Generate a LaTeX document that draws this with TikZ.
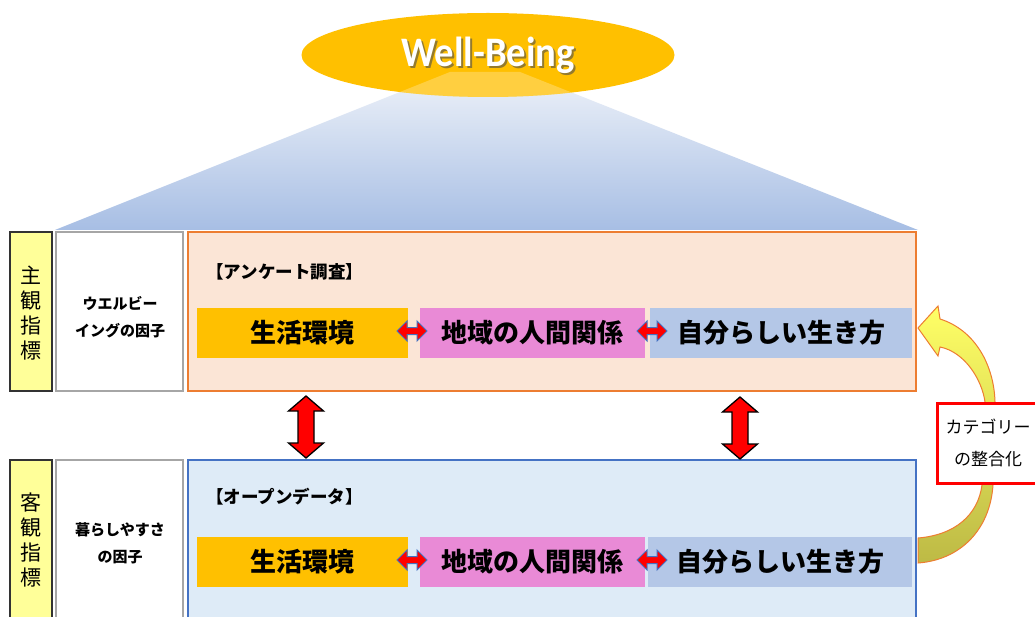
\documentclass[tikz,border=0pt]{standalone}
\usepackage{fontspec}
\setmainfont{Carlito}
\newfontfamily\jp{Noto Sans CJK JP}
\usetikzlibrary{calc,shapes.geometric}
\definecolor{wbYellow}{HTML}{FFC000}
\definecolor{trapTop}{HTML}{EEF2F9}
\definecolor{trapBot}{HTML}{A7BEE4}
\definecolor{labYellow}{HTML}{FFFF99}
\definecolor{boxGray}{HTML}{A6A6A6}
\definecolor{survOrange}{HTML}{ED7D31}
\definecolor{survFill}{HTML}{FBE5D6}
\definecolor{openBlue}{HTML}{4472C4}
\definecolor{openFill}{HTML}{DEEBF7}
\definecolor{barOrange}{HTML}{FFC000}
\definecolor{barPink}{HTML}{E98AD6}
\definecolor{barBlue}{HTML}{B4C7E7}
\definecolor{curveTop}{HTML}{FFFF66}
\definecolor{curveBot}{HTML}{BDBA45}
\begin{document}
\begin{tikzpicture}[x=1pt,y=-1pt,
  ylab/.style={draw=black!80, line width=1.2, fill=labYellow, minimum width=42, inner sep=0},
  wbox/.style={draw=boxGray, line width=2.5, fill=white, minimum width=127, inner sep=0},
  bigbox/.style={line width=2.5, minimum width=728, inner sep=0},
  bar/.style={minimum height=50, inner sep=0, font=\jp\bfseries\fontsize{26}{30}\selectfont},
  vlab/.style={align=center, inner sep=0, font=\jp\fontsize{21}{25}\selectfont},
  fac/.style={align=center, inner sep=0, font=\jp\bfseries\fontsize{15}{27}\selectfont},
  ttl/.style={anchor=west, inner sep=0, font=\jp\bfseries\fontsize{17.5}{20}\selectfont},
  wbfont/.style={font=\bfseries\fontsize{42}{46}\selectfont},
  hdarrow/.pic={\draw[fill=red, draw=openBlue, line width=1]
     (-15,0) -- (-5,-10) -- (-5,-3.5) -- (5,-3.5) -- (5,-10) -- (15,0) -- (5,10) -- (5,3.5) -- (-5,3.5) -- (-5,10) -- cycle;},
  vdarrow/.pic={\draw[fill=red, draw=black, line width=1.3]
     (0,-31) -- (17.5,-16) -- (8,-16) -- (8,16) -- (17.5,16) -- (0,31) -- (-17.5,16) -- (-8,16) -- (-8,-16) -- (-17.5,-16) -- cycle;}
]
\clip (0,0) rectangle (1035,617);
\fill[white] (0,0) rectangle (1035,617);

% trapezoid beam
\shade[top color=trapTop, bottom color=trapBot] (450,72) -- (520,72) -- (918,230) -- (55,230) -- cycle;

% Well-Being ellipse
\node[ellipse, fill=wbYellow, minimum width=373, minimum height=84, inner sep=0] (wb) at (488,55) {};
\begin{scope}
  \clip (488,55) ellipse [x radius=186.5, y radius=42];
  \fill[white, opacity=0.25] (450,72) -- (520,72) -- (918,230) -- (55,230) -- cycle;
\end{scope}
\node[text=black!70, opacity=0.6, wbfont] (wbshadow) at (490,57) {\scalebox{0.92}[1]{Well-Being}};
\node[text=white, wbfont] (wbtext) at (488,55) {\scalebox{0.92}[1]{Well-Being}};

% left labels
\node[ylab, minimum height=159] (subjbox) at (31,311.5) {};
\node[vlab] (subjtxt) at (31,313) {主\\観\\指\\標};
\node[ylab, minimum height=180] (objbox) at (31,550) {};
\node[vlab] (objtxt) at (31,540) {客\\観\\指\\標};

% factor boxes
\node[wbox, minimum height=159] (wbfac) at (119.5,311.5) {};
\node[fac] (wbfactxt) at (120,317) {ウエルビー\\イングの因子};
\node[wbox, minimum height=180] (lvfac) at (119.5,550) {};
\node[fac] (lvfactxt) at (120,543) {暮らしやすさ\\の因子};

% survey box
\node[bigbox, draw=survOrange, fill=survFill, minimum height=159] (survey) at (552,311.5) {};
\node[ttl] (surveyttl) at (206,272) {【アンケート調査】};
\node[bar, fill=barOrange, minimum width=211] (s1) at (302.5,333) {生活環境};
\node[bar, fill=barPink, minimum width=225] (s2) at (532.5,333) {地域の人間関係};
\node[bar, fill=barBlue, minimum width=262] (s3) at (781,333) {自分らしい生き方};
\pic at (412,331) {hdarrow};
\pic at (652,331) {hdarrow};

% open data box
\node[bigbox, draw=openBlue, fill=openFill, minimum height=180] (open) at (552,550) {};
\node[ttl] (openttl) at (206,497) {【オープンデータ】};
\node[bar, fill=barOrange, minimum width=211] (o1) at (302.5,562) {生活環境};
\node[bar, fill=barPink, minimum width=225] (o2) at (532.5,562) {地域の人間関係};
\node[bar, fill=barBlue, minimum width=264] (o3) at (780,562) {自分らしい生き方};
\pic at (412,560) {hdarrow};
\pic at (652,560) {hdarrow};

% vertical red arrows
\pic at (306,427) {vdarrow};
\pic at (740,428) {vdarrow};

% curved arrow
\shade[top color=curveTop, bottom color=curveBot, draw=survOrange, line width=1]
  (918,328) -- (938,306) -- (940,319) .. controls (975,330) and (994,365) .. (995,402)
  -- (993,485) .. controls (990,530) and (960,560) .. (918,563)
  -- (918,538) .. controls (955,535) and (978,515) .. (982,485)
  -- (985,402) .. controls (982,380) and (965,352) .. (940,347)
  -- (938,356) -- cycle;

% category box
\node[draw=red, line width=3, fill=white, minimum width=102, minimum height=80, align=center,
  inner sep=0, font=\jp\fontsize{17}{32}\selectfont] (cat) at (988,443) {カテゴリー\\の整合化};
\end{tikzpicture}
\end{document}
